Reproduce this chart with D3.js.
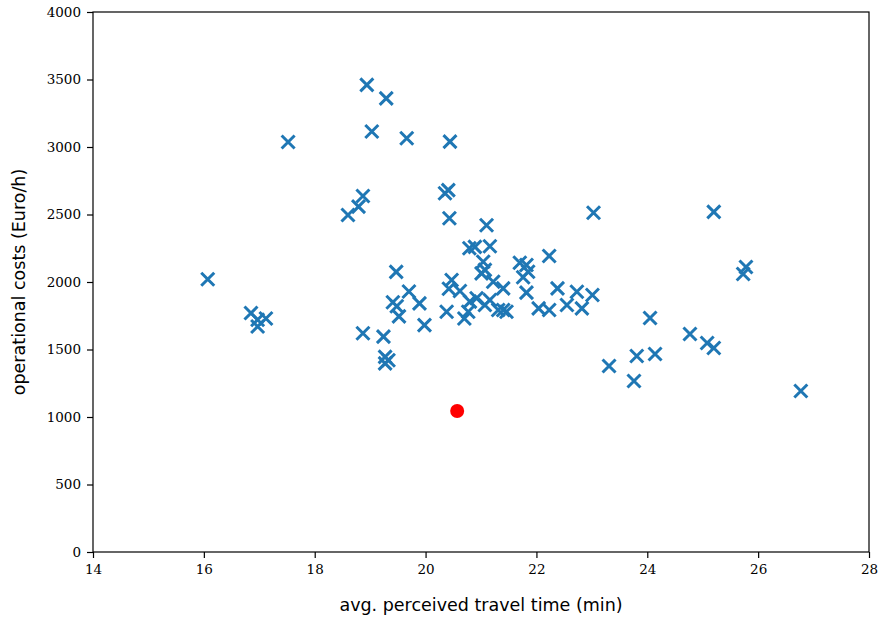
<!DOCTYPE html>
<html><head><meta charset="utf-8">
<script src="https://cdn.jsdelivr.net/npm/d3@7"></script>
<style>body{margin:0;background:#fff}
.tk text{font-family:"DejaVu Serif","Liberation Serif",serif;font-size:13.5px;fill:#000}
.lbl{font-family:"DejaVu Sans",sans-serif;font-size:17.5px;fill:#000}
</style>
</head><body>
<svg id="c" width="878" height="619"></svg>
<script>
const travelTime = [16.07,16.85,16.97,16.97,17.12,17.52,18.60,18.79,18.87,18.94,19.29,19.03,19.66,20.44,20.35,20.41,20.43,18.87,19.24,19.27,19.33,19.27,19.47,19.70,19.41,19.48,19.52,19.89,19.98,20.38,20.42,20.47,20.62,20.70,20.79,20.89,21.16,21.10,21.04,21.07,21.01,21.22,21.40,20.92,20.80,20.77,21.07,21.16,21.31,21.46,21.70,21.82,21.85,21.76,22.23,21.82,22.38,22.73,23.01,22.55,22.04,22.23,22.82,21.40,23.03,23.31,23.76,23.81,24.05,24.14,24.77,25.08,25.20,25.20,25.73,25.78,26.77];
const opCosts = [2020,1770,1720,1670,1730,3037,2496,2558,2637,3460,3360,3115,3065,3040,2657,2681,2472,1620,1595,1445,1420,1397,2075,1930,1850,1820,1745,1842,1681,1780,1950,2015,1933,1730,2250,2260,2265,2420,2150,2090,2064,2002,1953,1880,1855,1780,1830,1867,1793,1780,2143,2126,2076,2035,2193,1921,1953,1928,1904,1830,1805,1793,1805,1793,2513,1378,1267,1452,1733,1467,1615,1548,1511,2519,2059,2111,1193];
const highlightTime = [20.57];
const highlightCost = [1044];
const xTicks = [14,16,18,20,22,24,26,28];
const yTicks = [0,500,1000,1500,2000,2500,3000,3500,4000];
const xLabel = "avg. perceived travel time (min)";
const yLabel = "operational costs (Euro/h)";

const svg = d3.select("#c");
const L=93,R=869,T=12,B=552;
const x = d3.scaleLinear().domain([14,28]).range([L,R]);
const y = d3.scaleLinear().domain([0,4000]).range([B,T]);

const g = svg.append("g");
const s = 6.5;
travelTime.forEach((t,i)=>{
  const cx=x(t), cy=y(opCosts[i]);
  g.append("path").attr("d",`M${cx-s},${cy-s}L${cx+s},${cy+s}M${cx-s},${cy+s}L${cx+s},${cy-s}`)
   .attr("stroke","#1f77b4").attr("stroke-width",3).attr("fill","none");
});
highlightTime.forEach((t,i)=>{
  svg.append("circle").attr("cx",x(t)).attr("cy",y(highlightCost[i])).attr("r",7).attr("fill","#ff0000");
});

const xa = svg.append("g").attr("class","tk").attr("transform",`translate(0,${B})`)
  .call(d3.axisBottom(x).tickValues(xTicks).tickFormat(d3.format("d")).tickSize(6).tickSizeOuter(0).tickPadding(6));
const ya = svg.append("g").attr("class","tk").attr("transform",`translate(${L},0)`)
  .call(d3.axisLeft(y).tickValues(yTicks).tickFormat(d3.format("d")).tickSize(6).tickSizeOuter(0).tickPadding(6));
[xa,ya].forEach(a=>{
  a.attr("font-family",null).attr("font-size",null);
  a.select(".domain").remove();
  a.selectAll("line").attr("stroke","#000").attr("stroke-width",1.2);
});
svg.append("rect").attr("x",L).attr("y",T).attr("width",R-L).attr("height",B-T)
  .attr("fill","none").attr("stroke","#000").attr("stroke-width",1.2);

svg.append("text").attr("class","lbl").attr("x",(L+R)/2).attr("y",611).attr("text-anchor","middle").text(xLabel);
svg.append("text").attr("class","lbl").attr("transform",`translate(25,${(T+B)/2}) rotate(-90)`).attr("text-anchor","middle").text(yLabel);
</script>
</body></html>
